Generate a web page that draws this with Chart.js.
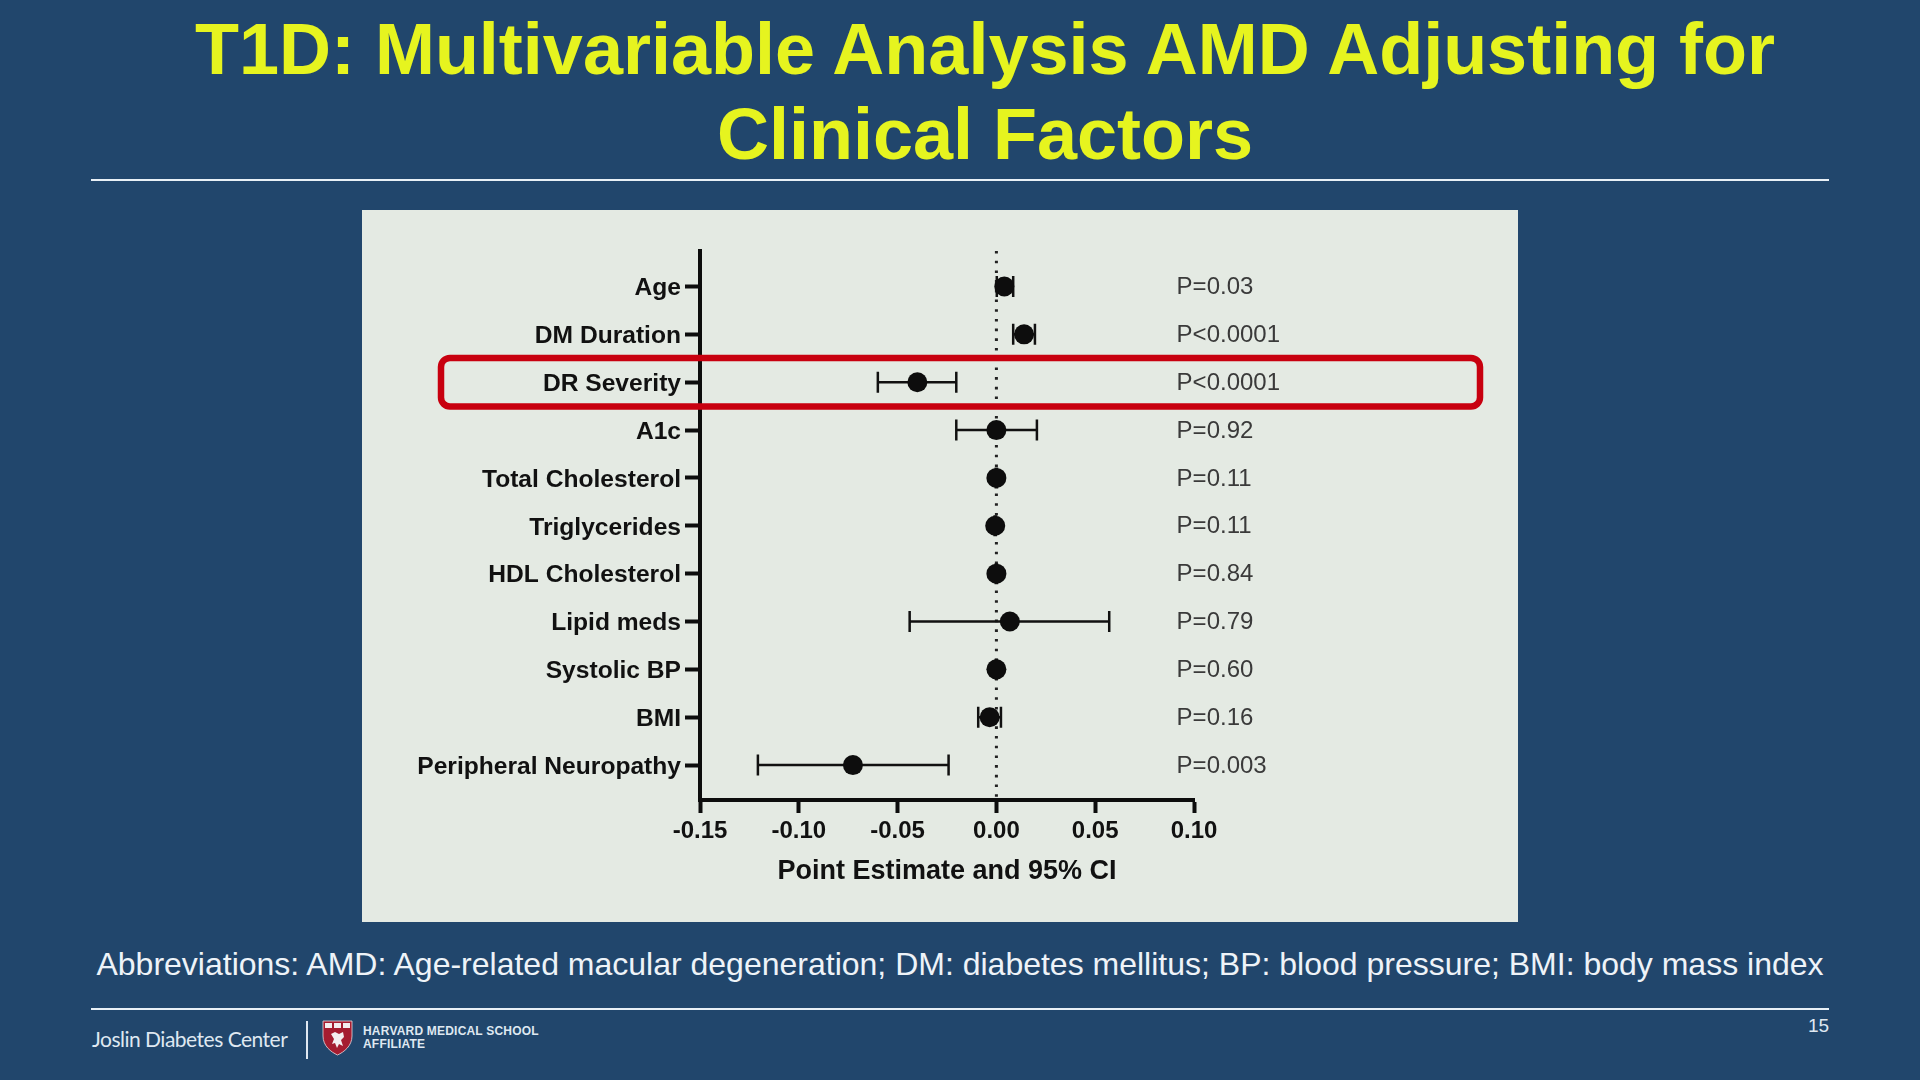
<!DOCTYPE html>
<html>
<head>
<meta charset="utf-8">
<title>T1D: Multivariable Analysis AMD Adjusting for Clinical Factors</title>
<script src="https://cdn.jsdelivr.net/npm/chart.js@4.4.1/dist/chart.umd.min.js"></script>
<style>
  html, body { margin: 0; padding: 0; }
  body {
    width: 1920px; height: 1080px; overflow: hidden; position: relative;
    background: #21466c; font-family: "Liberation Sans", Arial, sans-serif;
  }
  #title {
    position: absolute; left: 91px; top: 7px; width: 1788px;
    text-align: center; color: #e6f41f; font-weight: bold;
    font-size: 72px; line-height: 85px;
  }
  .rule { position: absolute; left: 91px; width: 1738px; height: 2px; background: #e9f0f6; }
  #panel { position: absolute; left: 362px; top: 210px; width: 1156px; height: 712px; background: #e4eae3; }
  #abbrev {
    position: absolute; left: 0; top: 945px; width: 1920px; text-align: center;
    color: #eef3f8; font-size: 32px; line-height: 38px; white-space: nowrap;
  }
  #joslin {
    position: absolute; left: 92px; top: 1025px; color: #dfe8f1;
    font-family: Lato, "Open Sans", sans-serif; font-size: 21px; letter-spacing: -0.5px; line-height: 28px;
  }
  #sep { position: absolute; left: 306px; top: 1021px; width: 1.5px; height: 38px; background: #dfe8f1; }
  #shield { position: absolute; left: 322px; top: 1020px; }
  #hms {
    position: absolute; left: 363px; top: 1025px; color: #dfe8f1;
    font-size: 12px; font-weight: bold; letter-spacing: 0.2px; line-height: 13px;
  }
  #page { position: absolute; left: 1808px; top: 1015px; color: #dfe8f1; font-size: 19px; line-height: 22px; }
</style>
</head>
<body>
<div id="title">T1D: Multivariable Analysis AMD Adjusting for<br>Clinical Factors</div>
<div class="rule" style="top:179px"></div>
<div id="panel"><canvas id="forest" width="1156" height="712"></canvas></div>
<div id="abbrev">Abbreviations: AMD: Age-related macular degeneration; DM: diabetes mellitus; BP: blood pressure; BMI: body mass index</div>
<div class="rule" style="top:1008px"></div>
<div id="joslin">Joslin Diabetes Center</div>
<div id="sep"></div>
<svg id="shield" width="31" height="36" viewBox="0 0 31 36">
  <path d="M1 1 H30 V16 C30 26 22 32 15.5 35 C9 32 1 26 1 16 Z" fill="#a51c30" stroke="#e8d8dc" stroke-width="0.8"/>
  <rect x="3" y="3" width="7" height="5" fill="#f4eef0"/>
  <rect x="12" y="3" width="7" height="5" fill="#f4eef0"/>
  <rect x="21" y="3" width="7" height="5" fill="#f4eef0"/>
  <path d="M9 14 L13 12 L17 14 L21 12 L22 17 L19 20 L21 26 L17 24 L15 28 L13 23 L10 24 L12 19 Z" fill="#f4eef0"/>
</svg>
<div id="hms">HARVARD MEDICAL SCHOOL<br>AFFILIATE</div>
<div id="page">15</div>

<script>
const categories = ['Age', 'DM Duration', 'DR Severity', 'A1c', 'Total Cholesterol', 'Triglycerides',
  'HDL Cholesterol', 'Lipid meds', 'Systolic BP', 'BMI', 'Peripheral Neuropathy'];
const estimates = [0.004, 0.014, -0.040, 0.000, 0.000, -0.0006, 0.000, 0.0068, 0.000, -0.0034, -0.0726];
const ciLow     = [0.0002, 0.0085, -0.060, -0.0203, -0.0003, -0.0009, -0.0003, -0.0439, -0.0003, -0.0092, -0.1207];
const ciHigh    = [0.0085, 0.0195, -0.0203, 0.0205, 0.0003, -0.0003, 0.0003, 0.0571, 0.0003, 0.0023, -0.0242];
const pLabels   = ['P=0.03', 'P<0.0001', 'P<0.0001', 'P=0.92', 'P=0.11', 'P=0.11',
  'P=0.84', 'P=0.79', 'P=0.60', 'P=0.16', 'P=0.003'];
const xTicks = [-0.15, -0.10, -0.05, 0.00, 0.05, 0.10];
const pColumnX = 0.0912;   // where the p-value column starts, in data units
const highlightRow = 2;    // DR Severity

const canvas = document.getElementById('forest');

const forestPlugin = {
  id: 'forest',
  beforeDatasetsDraw(chart) {
    const ctx = chart.ctx;
    const x = chart.scales.x;
    const y = chart.scales.y;
    const area = chart.chartArea;

    // dotted line at zero
    ctx.save();
    ctx.strokeStyle = '#222';
    ctx.lineWidth = 3;
    ctx.setLineDash([2.6, 7.1]);
    ctx.beginPath();
    ctx.moveTo(x.getPixelForValue(0), area.top);
    ctx.lineTo(x.getPixelForValue(0), area.bottom - 3);
    ctx.stroke();
    ctx.restore();

    // confidence intervals
    ctx.save();
    ctx.strokeStyle = '#111';
    ctx.lineWidth = 2.5;
    for (let i = 0; i < categories.length; i++) {
      const py = y.getPixelForValue(i);
      const x1 = x.getPixelForValue(ciLow[i]);
      const x2 = x.getPixelForValue(ciHigh[i]);
      ctx.beginPath();
      ctx.moveTo(x1, py);
      ctx.lineTo(x2, py);
      ctx.moveTo(x1, py - 10.5);
      ctx.lineTo(x1, py + 10.5);
      ctx.moveTo(x2, py - 10.5);
      ctx.lineTo(x2, py + 10.5);
      ctx.stroke();
    }
    ctx.restore();
  },
  afterDraw(chart) {
    const ctx = chart.ctx;
    const x = chart.scales.x;
    const y = chart.scales.y;

    ctx.save();
    ctx.fillStyle = '#3a3a3a';
    ctx.font = '24px "Liberation Sans", Arial, sans-serif';
    ctx.textBaseline = 'middle';
    ctx.textAlign = 'left';
    for (let i = 0; i < pLabels.length; i++) {
      ctx.fillText(pLabels[i], x.getPixelForValue(pColumnX), y.getPixelForValue(i) + 1);
    }

    // red highlight around DR Severity
    const cy = y.getPixelForValue(highlightRow);
    ctx.strokeStyle = '#c8000f';
    ctx.lineWidth = 6.5;
    ctx.beginPath();
    ctx.roundRect(79, cy - 24.3, 1039, 48.6, 9);
    ctx.stroke();
    ctx.restore();
  }
};

window.onload = () => {
  new Chart(canvas, {
    type: 'scatter',
    data: {
      datasets: [{
        data: estimates.map((v, i) => ({ x: v, y: i })),
        pointRadius: 10,
        pointHoverRadius: 10,
        backgroundColor: '#0d0d0d',
        borderWidth: 0
      }]
    },
    options: {
      responsive: false,
      animation: false,
      devicePixelRatio: 1,
      layout: { padding: { top: 41, right: 324, bottom: 0, left: 0 } },
      plugins: { legend: { display: false }, tooltip: { enabled: false } },
      scales: {
        x: {
          type: 'linear',
          min: -0.15,
          max: 0.10,
          afterBuildTicks: (scale) => { scale.ticks = xTicks.map(v => ({ value: v })); },
          afterFit: (scale) => { scale.height = 122; },
          grid: { drawOnChartArea: false, drawTicks: true, tickLength: 13, color: '#0d0d0d', tickWidth: 4 },
          border: { display: true, color: '#0d0d0d', width: 4 },
          ticks: {
            padding: 4,
            color: '#111',
            font: { family: '"Liberation Sans", Arial, sans-serif', size: 24, weight: 'bold' },
            callback: (v) => v.toFixed(2)
          },
          title: {
            display: true,
            text: 'Point Estimate and 95% CI',
            color: '#111',
            padding: { top: 0, bottom: 34 },
            font: { family: '"Liberation Sans", Arial, sans-serif', size: 27, weight: 'bold' }
          }
        },
        y: {
          type: 'linear',
          reverse: true,
          min: -0.742,
          max: 10.73,
          afterBuildTicks: (scale) => { scale.ticks = categories.map((c, i) => ({ value: i })); },
          afterFit: (scale) => { scale.width = 338; },
          grid: { drawOnChartArea: false, drawTicks: true, tickLength: 15, color: '#0d0d0d', tickWidth: 4 },
          border: { display: true, color: '#0d0d0d', width: 4 },
          ticks: {
            padding: 4,
            labelOffset: 2,
            autoSkip: false,
            color: '#111',
            font: { family: '"Liberation Sans", Arial, sans-serif', size: 24.6, weight: 'bold' },
            callback: (v) => categories[v]
          }
        }
      }
    },
    plugins: [forestPlugin]
  });
};
</script>
</body>
</html>
